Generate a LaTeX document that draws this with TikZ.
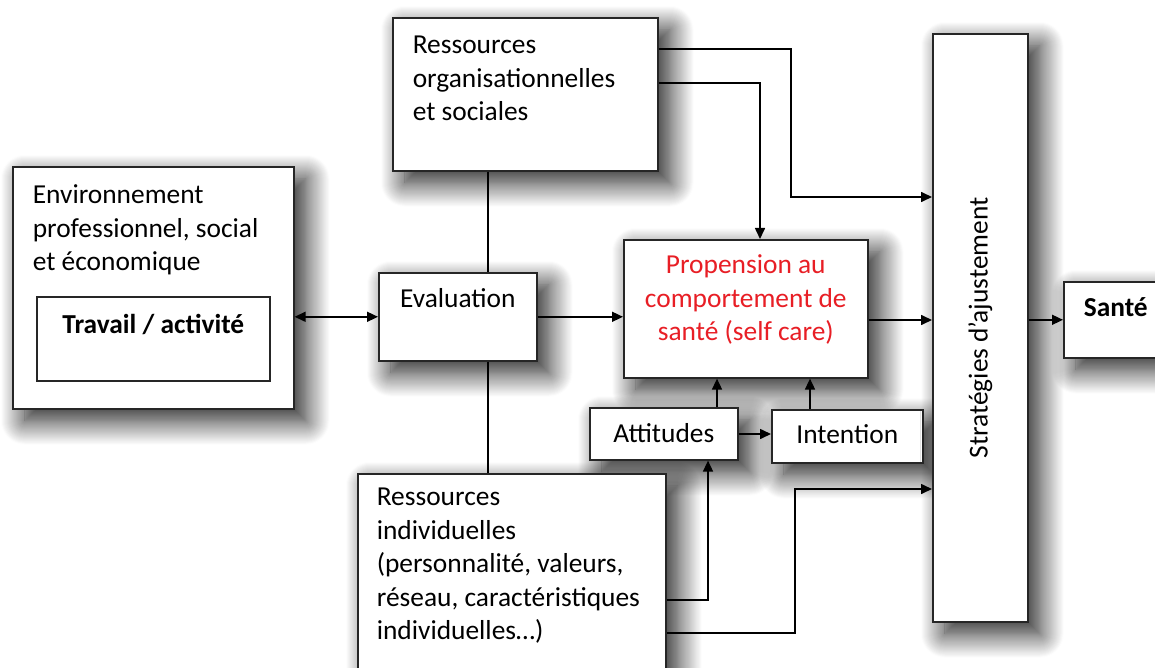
\documentclass[tikz,border=0pt]{standalone}
\usepackage{fontspec}
\setmainfont{Carlito}
\usepackage{xcolor}
\usepackage{tikz}
\usetikzlibrary{arrows.meta,shadows.blur}
\definecolor{propred}{RGB}{232,30,37}

\begin{document}
\begin{tikzpicture}[x=0.5pt,y=-0.5pt,line width=0.8pt,
  font=\fontsize{13.7}{16.75}\selectfont,
  box/.style={draw=black!85,fill=white,anchor=north west,inner ysep=0pt,inner xsep=10pt,
    blur shadow={shadow xshift=6pt,shadow yshift=-6pt,shadow blur radius=12pt,
      shadow blur steps=24,shadow opacity=90}},
  >={Triangle[length=5.5pt,width=5pt]}]
\clip (0,0) rectangle (1155,668);
% boxes
\node[box,align=flush left,text width=120.5pt,text height=18.5pt,text depth=102.5pt] (env) at (12,166)
  {Environnement\\professionnel, social\\et économique};
\node[draw=black!85,fill=white,anchor=north west,inner sep=0pt,align=flush center,text width=116.5pt,
  text height=18.5pt,text depth=23.5pt] (trav) at (36,296) {\bfseries Travail / activité};
\node[box,align=flush left,text width=112.5pt,text height=18pt,text depth=58.5pt] (org) at (392,17)
  {Ressources\\organisationnelles\\et sociales};
\node[box,align=flush center,text width=59pt,text height=17.5pt,text depth=26.5pt] (eval) at (378,272) {Evaluation};
\node[box,align=flush center,inner xsep=4pt,text width=114pt,text height=17pt,text depth=52pt,text=propred] (prop) at (623,239)
  {Propension au\\comportement de\\santé (self care)};
\node[box,align=flush center,text width=54pt,text height=17.5pt,text depth=8.5pt] (att) at (589,407) {Attitudes};
\node[box,align=flush center,text width=55.5pt,text height=17pt,text depth=9.5pt] (int) at (771,409) {Intention};
\node[box,inner sep=0pt,minimum width=47.5pt,minimum height=294pt] (strat) at (932,33)
  {\rotatebox{90}{Stratégies d’ajustement}};
\node[box,align=flush left,text width=45pt,text height=17.5pt,text depth=20.5pt] (sante) at (1063,281) {\bfseries Santé};
\node[box,align=flush left,inner xsep=9.5pt,text width=135pt,text height=16pt,text depth=104pt] (ind) at (357,473)
  {Ressources\\individuelles\\(personnalité, valeurs,\\réseau, caractéristiques\\individuelles…)};
% connectors
\draw[<->] (env.east |- eval.west) -- (eval.west);
\draw[->] (eval.east) -- (eval.east -| prop.west);
\draw[->] (prop.east |- 0,320) -- (strat.west |- 0,320);
\draw[->] (strat.east |- sante.west) -- (sante.west);
\draw[->] (org.east |- 0,49) -| (791,197) -- (strat.west |- 0,197);
\draw[->] (org.east |- 0,83) -| (prop.north -| 760,0);
\draw (org.south -| 488,0) -- (eval.north -| 488,0);
\draw (eval.south -| 488,0) -- (ind.north -| 488,0);
\draw[->] (att.north -| 717,0) -- (prop.south -| 717,0);
\draw[->] (int.north -| 810,0) -- (prop.south -| 810,0);
\draw[->] (att.east |- 0,434) -- (int.west |- 0,434);
\draw[->] (ind.east |- 0,600) -| (att.south -| 708,0);
\draw[->] (ind.east |- 0,633) -| (795,489) -- (strat.west |- 0,489);
\end{tikzpicture}
\end{document}
